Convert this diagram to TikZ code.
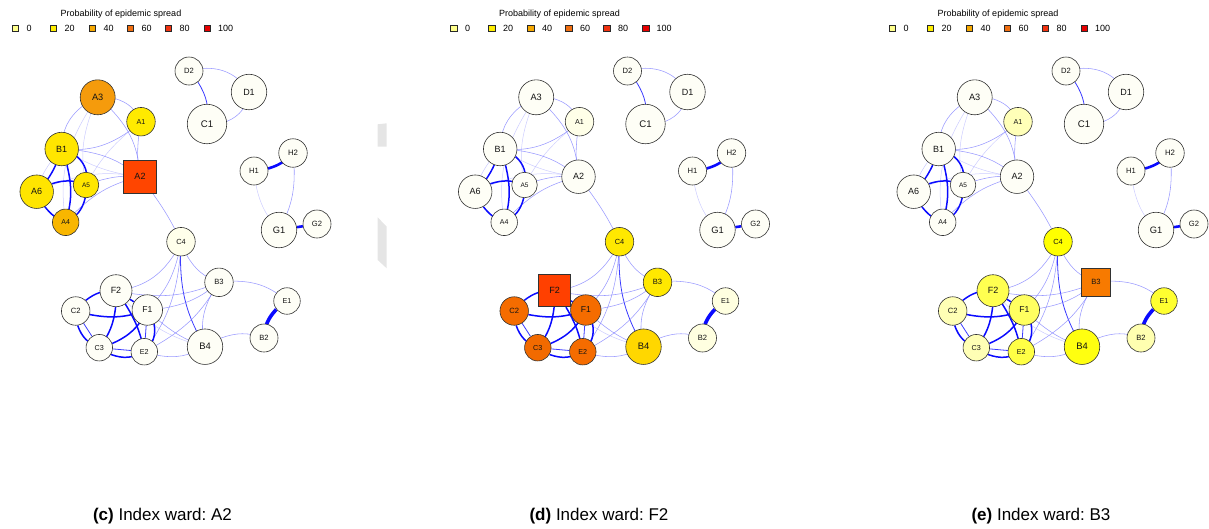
\documentclass[tikz,border=0pt]{standalone}
\usepackage{fontspec}
\setmainfont{Liberation Sans}
\usetikzlibrary{backgrounds}
\frenchspacing
\newcommand{\fsz}[1]{\fontsize{#1}{#1}\selectfont}
\definecolor{offw}{HTML}{FEFEF6}
\definecolor{lg0}{HTML}{FFFF8C}
\definecolor{lg20}{HTML}{FFEE00}
\definecolor{lg40}{HTML}{F6A800}
\definecolor{lg60}{HTML}{F06E10}
\definecolor{lg80}{HTML}{F03210}
\definecolor{lg100}{HTML}{E60000}
\definecolor{artgray}{HTML}{E5E5E5}
\colorlet{cA1}{offw}\colorlet{cA2}{offw}\colorlet{cA3}{offw}\colorlet{cA4}{offw}
\colorlet{cA5}{offw}\colorlet{cA6}{offw}\colorlet{cB1}{offw}\colorlet{cB2}{offw}
\colorlet{cB3}{offw}\colorlet{cB4}{offw}\colorlet{cC1}{offw}\colorlet{cC2}{offw}
\colorlet{cC3}{offw}\colorlet{cC4}{offw}\colorlet{cD1}{offw}\colorlet{cD2}{offw}
\colorlet{cE1}{offw}\colorlet{cE2}{offw}\colorlet{cF1}{offw}\colorlet{cF2}{offw}
\colorlet{cG1}{offw}\colorlet{cG2}{offw}\colorlet{cH1}{offw}\colorlet{cH2}{offw}
\tikzset{
 vv/.style={circle, draw={rgb,255:red,50;green,50;blue,50}, line width=0.6pt, inner sep=0pt, text={rgb,255:red,20;green,20;blue,20}},
 sqr/.style={rectangle, line width=0.9pt},
 le/.style={draw={rgb,255:red,120;green,120;blue,255}, line width=0.55pt, opacity=0.75},
 fe/.style={draw={rgb,255:red,170;green,170;blue,255}, line width=0.5pt, opacity=0.6},
 me/.style={draw={rgb,255:red,60;green,60;blue,255}, line width=0.8pt},
 te/.style={draw={rgb,255:red,10;green,10;blue,255}, line width=1.5pt},
 xe/.style={draw={rgb,255:red,10;green,10;blue,255}, line width=2.6pt},
 xxe/.style={draw={rgb,255:red,10;green,10;blue,255}, line width=3.6pt},
 lsq/.style={rectangle, draw={rgb,255:red,40;green,40;blue,40}, line width=0.5pt, minimum size=6.5pt, inner sep=0pt},
 lt/.style={font=\fsz{9}, inner sep=0pt},
 captxt/.style={font=\fsz{17}, inner sep=0pt},
}
\newcommand{\vtx}[5]{\node[vv, minimum size=#4pt, font=\fsz{#5}, fill=c#1, shp#1/.try] (#1) at (#2,#3) {#1};}
\newcommand{\lgd}{%
 \node[lt] (ttl) at (121,14) {Probability of epidemic spread};
 \node[lsq, fill=lg0] (s0) at (15,28) {}; \node[lt, anchor=west] (l0) at (26.5,28) {0};
 \node[lsq, fill=lg20] (s20) at (53,28) {}; \node[lt, anchor=west] (l20) at (64.5,28) {20};
 \node[lsq, fill=lg40] (s40) at (92,28) {}; \node[lt, anchor=west] (l40) at (103.5,28) {40};
 \node[lsq, fill=lg60] (s60) at (130,28) {}; \node[lt, anchor=west] (l60) at (141.5,28) {60};
 \node[lsq, fill=lg80] (s80) at (168,28) {}; \node[lt, anchor=west] (l80) at (179.5,28) {80};
 \node[lsq, fill=lg100] (s100) at (207,28) {}; \node[lt, anchor=west] (l100) at (218,28) {100};
}
\newcommand{\graphnodes}{%
 \vtx{A3}{97.7}{97.3}{35}{9.2}
 \vtx{A1}{141}{121.7}{28.5}{7.2}
 \vtx{B1}{61.7}{149}{33.5}{9}
 \vtx{A2}{140}{176.7}{33.5}{9}
 \vtx{A6}{36.7}{191.7}{33.5}{9}
 \vtx{A5}{86}{185}{25.5}{6.5}
 \vtx{A4}{65.7}{222.3}{26.5}{7}
 \vtx{D2}{189}{71}{28}{7.6}
 \vtx{D1}{249}{92}{35.5}{9}
 \vtx{C1}{207}{124}{39.5}{9.6}
 \vtx{H2}{293}{153}{28.5}{7.8}
 \vtx{H1}{254}{171}{28}{7.6}
 \vtx{G1}{279}{230}{35.5}{9.3}
 \vtx{G2}{317}{224}{28}{7.6}
 \vtx{C4}{181}{241.7}{28.5}{7.4}
 \vtx{B3}{219}{282.3}{28.5}{7.6}
 \vtx{F2}{116}{290.7}{32}{9}
 \vtx{F1}{147.3}{310}{30.5}{8.6}
 \vtx{C2}{75.7}{311}{28.5}{7.6}
 \vtx{C3}{99.3}{347.7}{26.5}{7.2}
 \vtx{E2}{144.3}{351.7}{26.5}{7.2}
 \vtx{B4}{205}{346.7}{35.5}{9.4}
 \vtx{E1}{287}{301}{26.5}{7.2}
 \vtx{B2}{264}{338}{28}{7.6}
}
\newcommand{\graphedges}{%
 \draw[le] (D2) to[bend left=30] (D1);
 \draw[me] (D2) to[bend left=20] (C1);
 \draw[le] (C1) to[bend right=30] (D1);
 \draw[xe] (H1) to[bend right=15] (H2);
 \draw[le] (H2) to[bend left=15] (G1);
 \draw[fe] (H1) to[bend right=15] (G1);
 \draw[xe] (G1) -- (G2);
 \draw[le] (A3) to[bend left=25] (A1);
 \draw[le] (A3) to[bend right=25] (B1);
 \draw[fe] (A3) to[bend right=15] (A5);
 \draw[fe] (A3) to[bend right=20] (A4);
 \draw[le] (A3) to[bend left=20] (A2);
 \draw[le] (A1) to[bend left=20] (B1);
 \draw[le] (A1) to[bend right=8] (A2);
 \draw[fe] (A1) to[bend right=10] (A5);
 \draw[le] (B1) to[bend left=15] (A2);
 \draw[fe] (B1) to[bend right=10] (A2);
 \draw[fe] (A6) to[bend left=15] (A2);
 \draw[le] (A5) to[bend left=10] (A2);
 \draw[le] (A4) to[bend left=15] (A2);
 \draw[fe] (B1) to[bend right=10] (A6);
 \draw[te] (B1) to[bend left=10] (A6);
 \draw[te] (B1) to[bend left=30] (A5);
 \draw[te] (B1) to[bend left=15] (A4);
 \draw[te] (A6) to[bend left=20] (A5);
 \draw[te] (A6) to[bend right=15] (A4);
 \draw[te] (A5) to[bend left=25] (A4);
 \draw[le] (A2) to[bend left=5] (C4);
 \draw[le] (C4) to[bend left=25] (F2);
 \draw[le] (C4) to[bend left=15] (F1);
 \draw[le] (C4) to[bend left=15] (E2);
 \draw[me] (C4) to[bend right=15] (B4);
 \draw[le] (C4) to[bend right=20] (B3);
 \draw[le] (F2) to[bend right=15] (B3);
 \draw[le] (F1) to[bend right=15] (B3);
 \draw[le] (E2) to[bend right=15] (B3);
 \draw[le] (F1) to[bend right=10] (B4);
 \draw[fe] (F2) to[bend right=15] (B4);
 \draw[le] (E2) to[bend right=20] (B4);
 \draw[le] (B3) to[bend right=20] (B4);
 \draw[le] (B3) to[bend left=20] (E1);
 \draw[le] (B4) to[bend left=20] (B2);
 \draw[xxe] (E1) to[bend right=20] (B2);
 \draw[te] (C2) to[bend left=20] (F2);
 \draw[te] (F2) -- (F1);
 \draw[te] (F2) to[bend left=15] (C3);
 \draw[te] (F2) to[bend left=10] (E2);
 \draw[te] (C2) to[bend right=15] (F1);
 \draw[te] (C2) to[bend right=25] (C3);
 \draw[me] (C2) -- (C3);
 \draw[te] (C3) to[bend right=20] (F1);
 \draw[te] (C3) to[bend right=25] (E2);
 \draw[me] (C3) -- (E2);
 \draw[te] (F1) to[bend left=30] (E2);
 \draw[me] (F1) -- (E2);
}
\newcommand{\panel}{\lgd\graphnodes\begin{pgfonlayer}{background}\graphedges\end{pgfonlayer}}
\begin{document}
\begin{tikzpicture}[x=1pt,y=-1pt]
\useasboundingbox (0,0) rectangle (1209,528);
\fill[artgray] (377.7,124.3) -- (386.7,123.3) -- (386.7,146.7) -- (377.7,146.7) -- cycle;
\fill[artgray] (377.7,217.3) -- (386.7,226.7) -- (386.7,268.3) -- (377.7,260) -- cycle;
% panel c
\begin{scope}[name prefix=c-]
 \definecolor{cA3}{HTML}{F59B0C}
 \definecolor{cA1}{HTML}{FFEA00}
 \definecolor{cB1}{HTML}{FFE600}
 \definecolor{cA6}{HTML}{FFE500}
 \definecolor{cA5}{HTML}{FFE600}
 \definecolor{cA4}{HTML}{F8B600}
 \definecolor{cA2}{HTML}{FF4500}
 \definecolor{cC4}{HTML}{FFFFEB}
 \tikzset{shpA2/.style={sqr}}
 \panel
\end{scope}
% panel d
\begin{scope}[shift={(438.5,0)}, name prefix=d-]
 \definecolor{cF2}{HTML}{FF4000}
 \definecolor{cC2}{HTML}{F56C00}
 \definecolor{cF1}{HTML}{F56C00}
 \definecolor{cC3}{HTML}{F26A00}
 \definecolor{cE2}{HTML}{F56C00}
 \definecolor{cC4}{HTML}{FFE800}
 \definecolor{cB3}{HTML}{FFE800}
 \definecolor{cB4}{HTML}{FFD700}
 \definecolor{cE1}{HTML}{FFFFE0}
 \definecolor{cB2}{HTML}{FFFFE0}
 \definecolor{cA1}{HTML}{FFFFE8}
 \tikzset{shpF2/.style={sqr}}
 \panel
\end{scope}
% panel e
\begin{scope}[shift={(877,0)}, name prefix=e-]
 \definecolor{cB3}{HTML}{F77A00}
 \definecolor{cC4}{HTML}{FFFF00}
 \definecolor{cF2}{HTML}{FFFF50}
 \definecolor{cF1}{HTML}{FFFF60}
 \definecolor{cE2}{HTML}{FFFF45}
 \definecolor{cB4}{HTML}{FFFF10}
 \definecolor{cE1}{HTML}{FFFF30}
 \definecolor{cC2}{HTML}{FFFFB5}
 \definecolor{cC3}{HTML}{FFFFB5}
 \definecolor{cB2}{HTML}{FFFFB0}
 \definecolor{cA1}{HTML}{FFFFB8}
 \tikzset{shpB3/.style={sqr}}
 \panel
\end{scope}
\node[captxt] (capc) at (162.5,516) {\textbf{(c)} Index ward: A2};
\node[captxt] (capd) at (599,516) {\textbf{(d)} Index ward: F2};
\node[captxt] (cape) at (1041,516) {\textbf{(e)} Index ward: B3};
\end{tikzpicture}
\end{document}
